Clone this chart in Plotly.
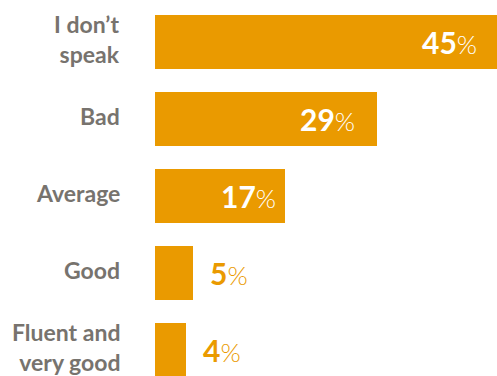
import plotly.graph_objects as go

categories = ["I don’t<br>speak", "Bad", "Average", "Good", "Fluent and<br>very good"]
values = [45, 29, 17, 5, 4]

BAR = "#EA9A00"
GRAY = "#77736E"
XMAX = 44.7

positions = list(range(len(categories)))

fig = go.Figure(go.Bar(
    x=values, y=positions, orientation="h",
    marker=dict(color=BAR, line=dict(width=0)),
    width=0.70, hoverinfo="skip",
))

annotations = []
for pos, cat, v in zip(positions, categories, values):
    annotations.append(dict(
        x=0, xref="paper", y=pos, yref="y", text=f"<b>{cat}</b>",
        xanchor="right", yanchor="middle", xshift=-33, yshift=3, showarrow=False,
        align="right", font=dict(family="Lato", size=23, color=GRAY),
    ))
    inside = v >= 10
    label = (f"<b><span style='font-size:30px'>{v}</span></b>"
             f"<span style='font-size:26px;font-weight:300'>%</span>")
    annotations.append(dict(
        x=v / XMAX, xref="paper", y=pos, yref="y", text=label,
        xanchor="right" if inside else "left", yanchor="middle",
        xshift=(-20 if v >= 25 else -7) if inside else 15,
        showarrow=False,
        font=dict(family="Lato", size=30, color="white" if inside else BAR),
    ))

fig.update_layout(
    width=497, height=376,
    margin=dict(l=155, r=0, t=0, b=0),
    paper_bgcolor="white", plot_bgcolor="white",
    xaxis=dict(range=[0, XMAX], visible=False, fixedrange=True),
    yaxis=dict(range=[4.338, -0.545], visible=False, fixedrange=True),
    showlegend=False, annotations=annotations,
    bargap=0,
)

fig.write_html("out.html", config={"displayModeBar": False})
